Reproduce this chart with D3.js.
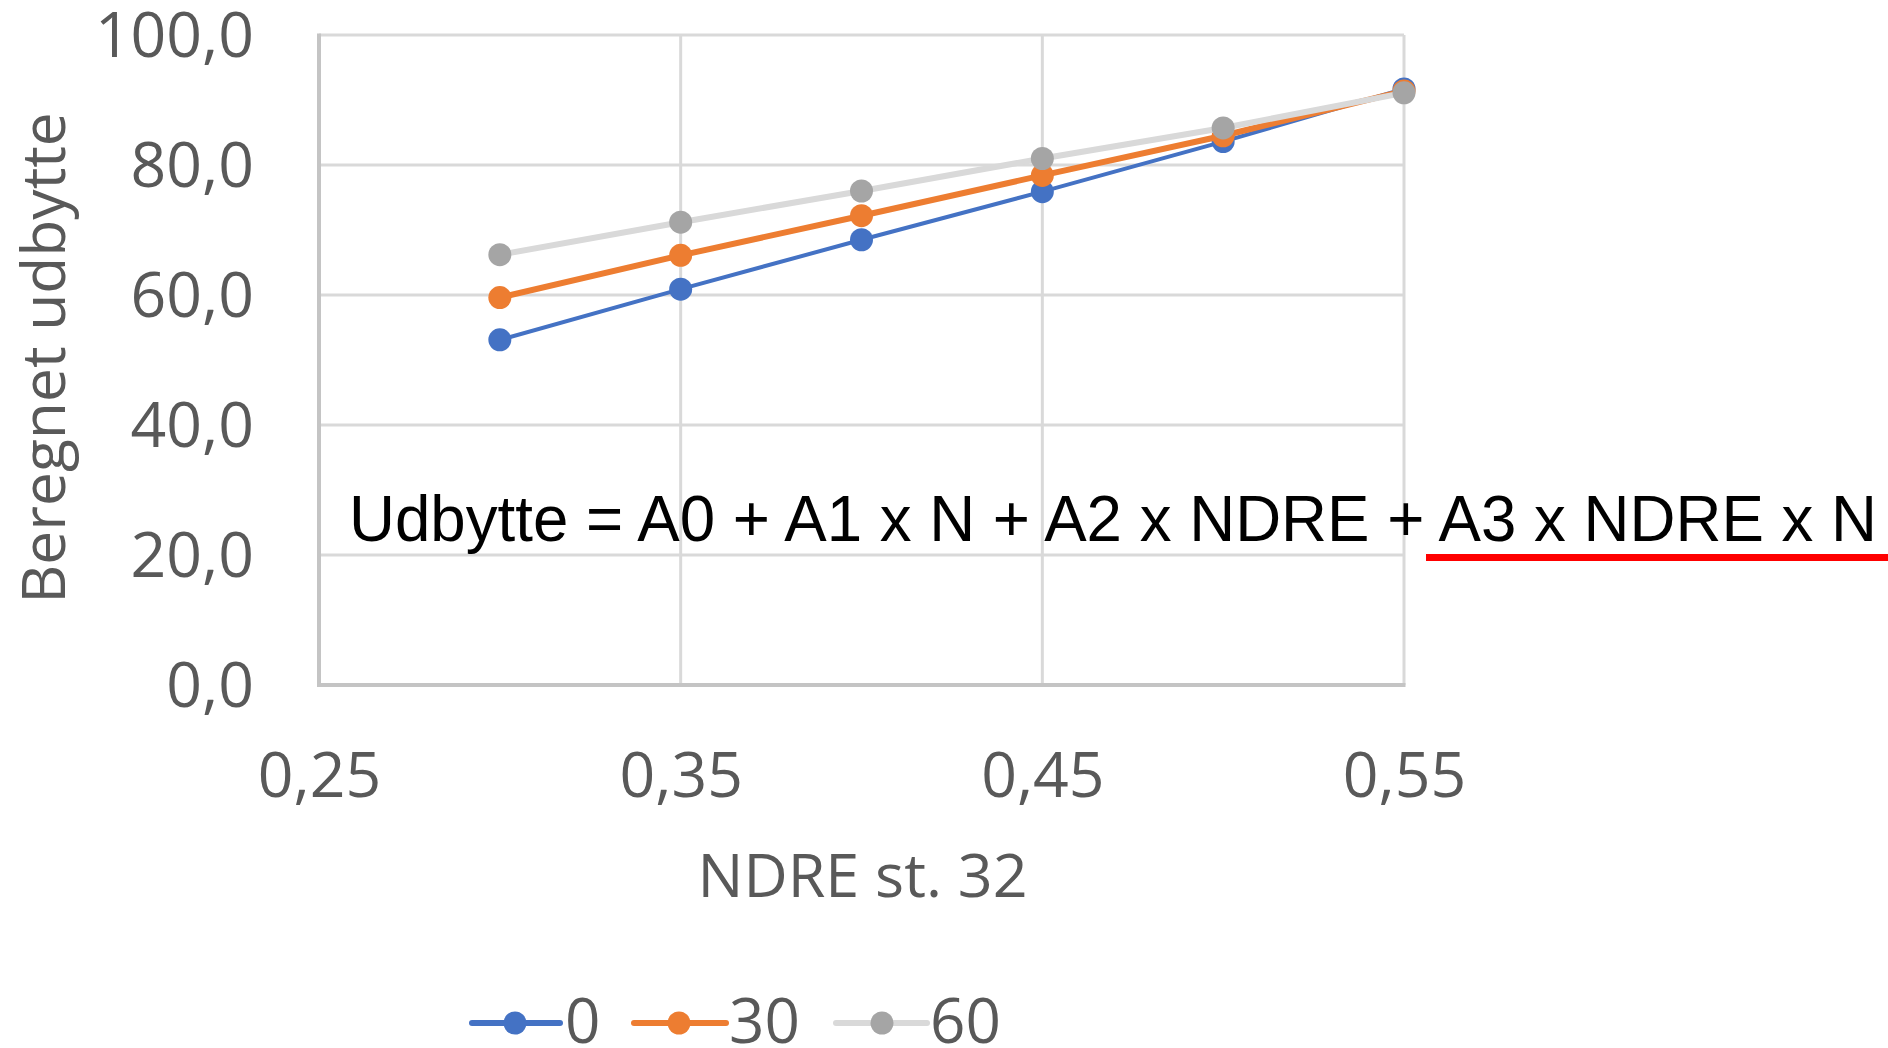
<!DOCTYPE html>
<html>
<head>
<meta charset="utf-8">
<script src="https://cdn.jsdelivr.net/npm/d3@7"></script>
<style>
  html, body { margin: 0; padding: 0; background: #ffffff; }
  svg { display: block; }
  .tick-label, .axis-title, .legend-label { font-family: "Open Sans", "Noto Sans", sans-serif; fill: #595959; }
</style>
</head>
<body>
<svg id="chart" width="1888" height="1048"></svg>
<script>
// NDRE values at growth stage 32 (x axis)
const ndre = [0.30, 0.35, 0.40, 0.45, 0.50, 0.55];
// Nitrogen levels (kg N/ha), one series each
const nLevels = ["0", "30", "60"];
// Calculated yield for each nitrogen level
const yieldN0 = [53.1, 60.9, 68.5, 75.9, 83.6, 91.7];
const yieldN30 = [59.6, 66.1, 72.2, 78.4, 84.5, 91.4];
const yieldN60 = [66.2, 71.2, 76.0, 81.0, 85.7, 91.1];
// Axis ticks
const xTicks = [0.25, 0.35, 0.45, 0.55];
const yTicks = [0, 20, 40, 60, 80, 100];

const seriesColors = ["#4472C4", "#ED7D31", "#D9D9D9"];
const markerColors = ["#4472C4", "#ED7D31", "#A5A5A5"];
const lineWidths = [4, 6, 6];

const series = [yieldN0, yieldN30, yieldN60].map((vals, i) => ({
  name: nLevels[i],
  points: vals.map((v, j) => ({ x: ndre[j], y: v })),
  line: seriesColors[i],
  marker: markerColors[i],
  width: lineWidths[i]
}));

const locale = d3.formatLocale({ decimal: ",", thousands: ".", grouping: [3], currency: ["", " kr"] });
const fmtY = locale.format(".1f");
const fmtX = locale.format(".2f");

const svg = d3.select("#chart");
const plot = { left: 319, right: 1404, top: 35, bottom: 685 };

const x = d3.scaleLinear().domain([0.25, 0.55]).range([plot.left, plot.right]);
const y = d3.scaleLinear().domain([0, 100]).range([plot.bottom, plot.top]);

// Gridlines
const grid = svg.append("g");
grid.selectAll("line.h").data(yTicks.filter(d => d !== 0)).join("line")
  .attr("x1", plot.left).attr("x2", plot.right)
  .attr("y1", d => y(d)).attr("y2", d => y(d))
  .attr("stroke", "#D9D9D9").attr("stroke-width", 3);
grid.selectAll("line.v").data(xTicks.filter(d => d !== 0.25)).join("line")
  .attr("x1", d => x(d)).attr("x2", d => x(d))
  .attr("y1", plot.top).attr("y2", plot.bottom)
  .attr("stroke", "#D9D9D9").attr("stroke-width", 3);

// Axis lines
svg.append("line")
  .attr("x1", x(0.25)).attr("x2", x(0.25)).attr("y1", plot.top - 1.5).attr("y2", plot.bottom + 2)
  .attr("stroke", "#C4C4C4").attr("stroke-width", 4);
svg.append("line")
  .attr("x1", plot.left - 2).attr("x2", plot.right + 1.5).attr("y1", y(0)).attr("y2", y(0))
  .attr("stroke", "#C4C4C4").attr("stroke-width", 4);

// Tick labels
const yAxis = svg.append("g").attr("transform", `translate(${plot.left},0)`)
  .call(d3.axisLeft(y).tickValues(yTicks).tickFormat(fmtY).tickSize(0).tickPadding(65));
const xAxis = svg.append("g").attr("transform", `translate(0,${plot.bottom})`)
  .call(d3.axisBottom(x).tickValues(xTicks).tickFormat(fmtX).tickSize(0).tickPadding(68));
[yAxis, xAxis].forEach(g => {
  g.select(".domain").remove();
  g.selectAll("text").attr("class", "tick-label").attr("font-size", 62.5).attr("fill", "#595959");
});
yAxis.selectAll("text").attr("dy", "0.35em");

// Axis titles
svg.append("text").attr("class", "axis-title")
  .attr("x", (plot.left + plot.right) / 2 + 1).attr("y", 897)
  .attr("text-anchor", "middle").attr("font-size", 61)
  .text("NDRE st. 32");
svg.append("text").attr("class", "axis-title")
  .attr("transform", `translate(65,${(plot.top + plot.bottom) / 2 - 2}) rotate(-90)`)
  .attr("text-anchor", "middle").attr("font-size", 60.5)
  .text("Beregnet udbytte");

// Series lines and markers
const lineGen = d3.line().x(d => x(d.x)).y(d => y(d.y));
series.forEach(s => {
  const g = svg.append("g");
  g.append("path").datum(s.points)
    .attr("d", lineGen).attr("fill", "none")
    .attr("stroke", s.line).attr("stroke-width", s.width)
    .attr("stroke-linejoin", "round").attr("stroke-linecap", "round");
  g.selectAll("circle").data(s.points).join("circle")
    .attr("cx", d => x(d.x)).attr("cy", d => y(d.y)).attr("r", 11.5)
    .attr("fill", s.marker);
});

// Model equation
svg.append("text")
  .attr("x", 349).attr("y", 541)
  .attr("font-family", "'Liberation Sans', Arial, sans-serif")
  .attr("font-size", 64).attr("fill", "#000000")
  .attr("textLength", 1528).attr("lengthAdjust", "spacingAndGlyphs")
  .text("Udbytte = A0 + A1 x N + A2 x NDRE + A3 x NDRE x N");
svg.append("rect")
  .attr("x", 1426).attr("y", 554).attr("width", 462).attr("height", 7)
  .attr("fill", "#FF0000");

// Legend
const legendItems = [
  { x1: 472, x2: 560, cx: 515, tx: 565 },
  { x1: 634, x2: 726, cx: 679, tx: 729 },
  { x1: 836, x2: 927, cx: 882, tx: 930 }
];
const legend = svg.append("g");
series.forEach((s, i) => {
  const L = legendItems[i];
  legend.append("line")
    .attr("x1", L.x1).attr("x2", L.x2).attr("y1", 1023).attr("y2", 1023)
    .attr("stroke", s.line).attr("stroke-width", 6).attr("stroke-linecap", "round");
  legend.append("circle").attr("cx", L.cx).attr("cy", 1023).attr("r", 11.5).attr("fill", s.marker);
  legend.append("text").attr("class", "legend-label")
    .attr("x", L.tx).attr("y", 1043).attr("font-size", 62)
    .text(s.name);
});
</script>
</body>
</html>
